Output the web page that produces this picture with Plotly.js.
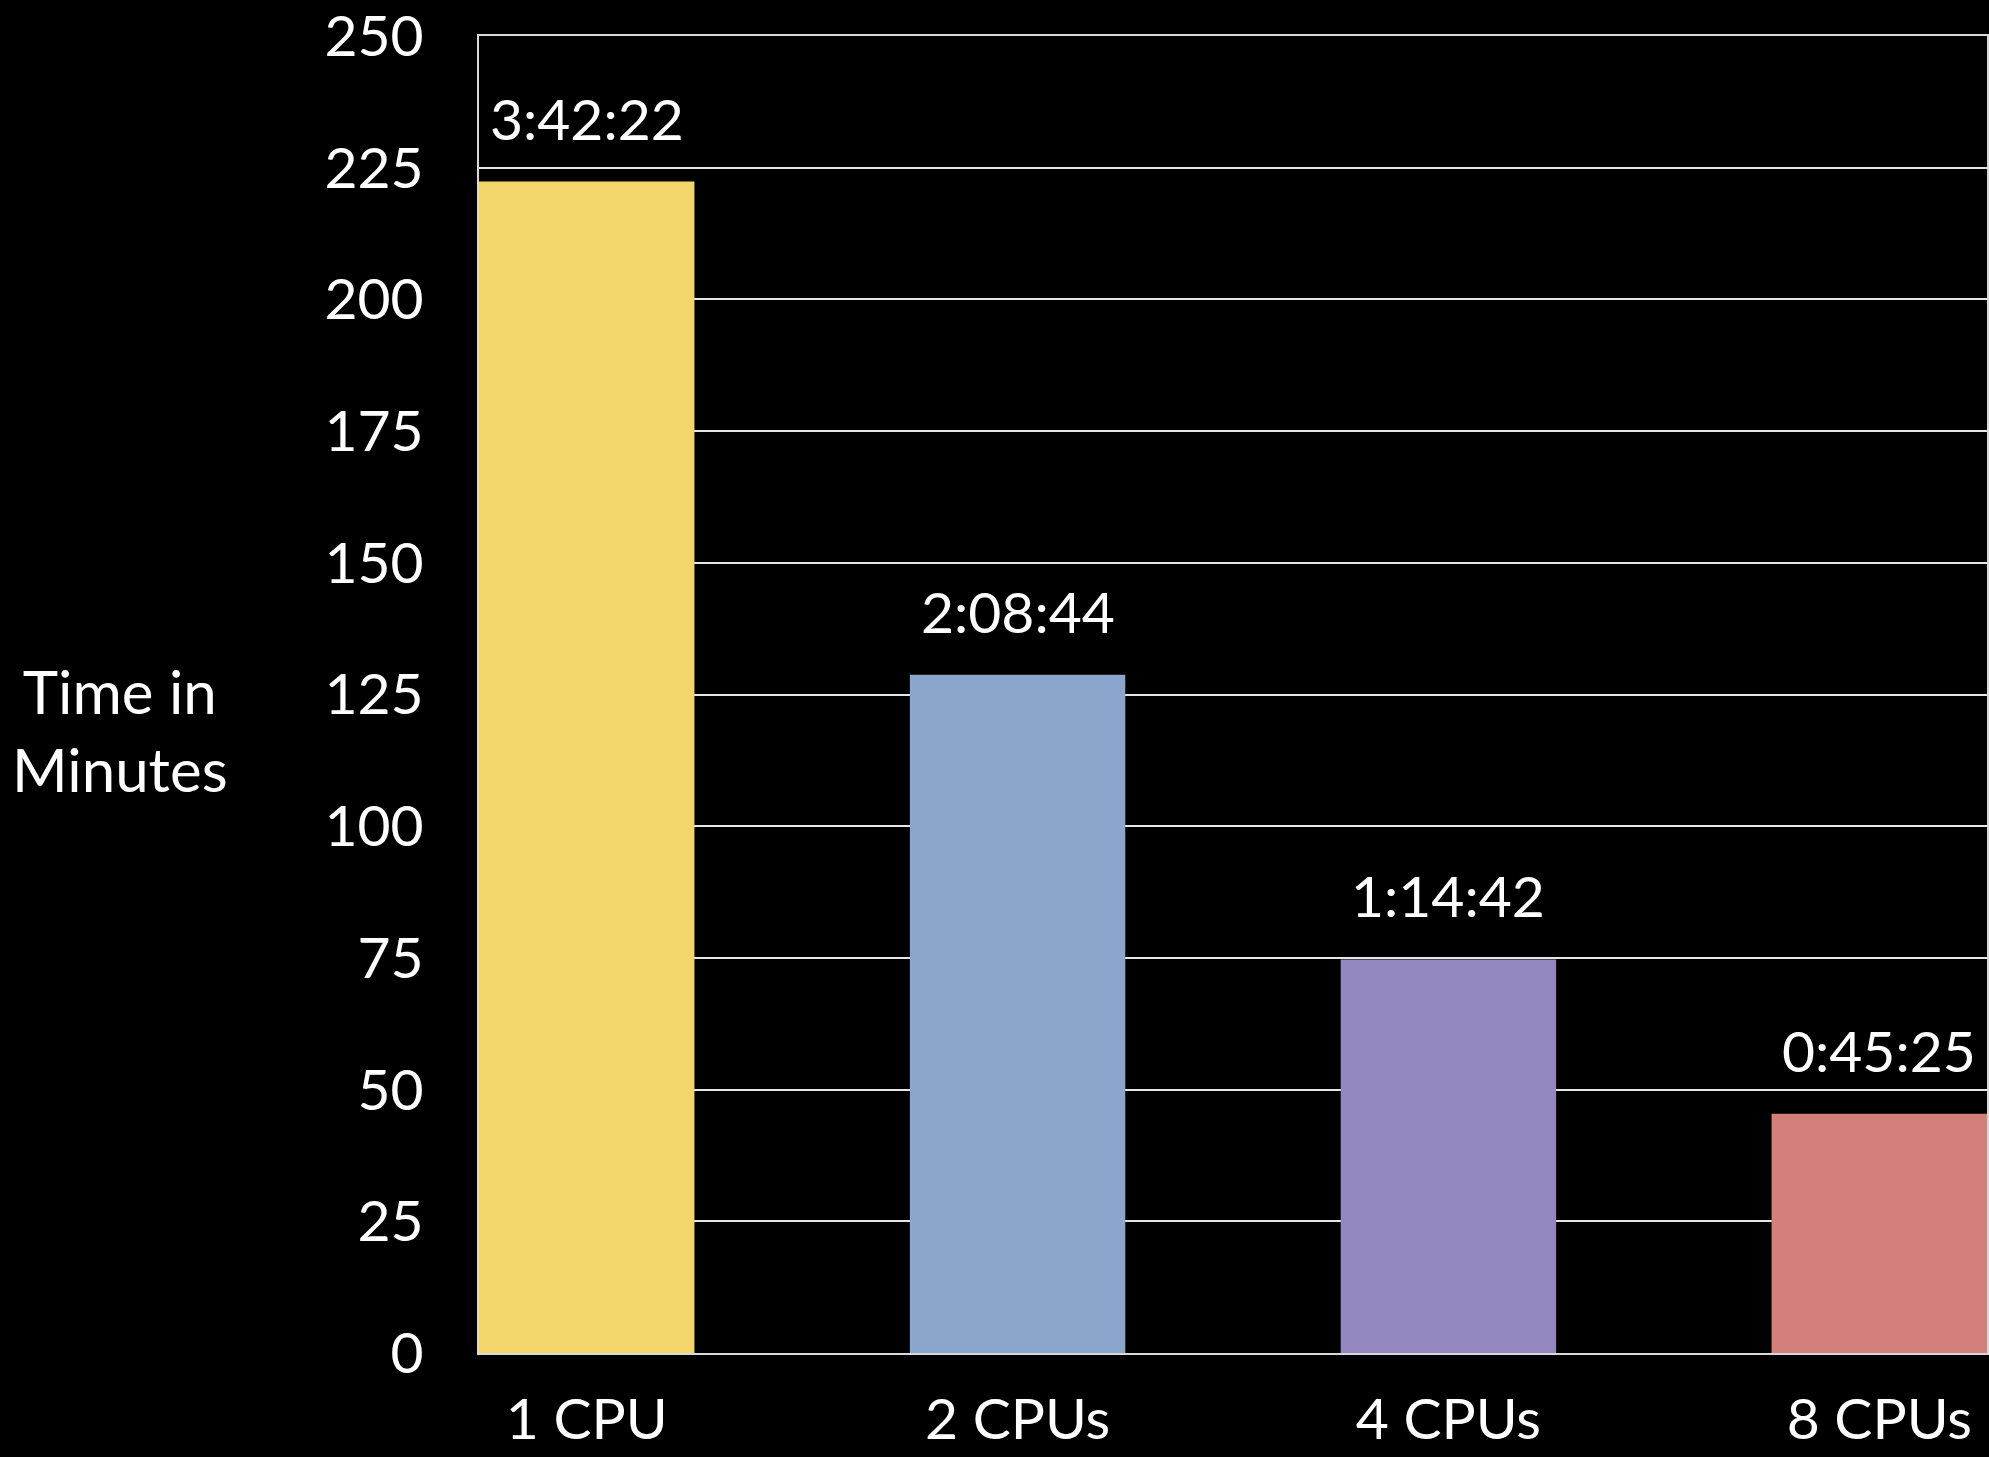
<!DOCTYPE html>
<html>
<head>
<meta charset="utf-8">
<script src="https://cdn.plot.ly/plotly-3.0.1.min.js"></script>
<style>
  html, body { margin: 0; padding: 0; background: #000; }
  #chart { width: 1989px; height: 1457px; }
</style>
</head>
<body>
<div id="chart"></div>
<script>
// Data
const categories = ["1 CPU", "2 CPUs", "4 CPUs", "8 CPUs"];
const timeLabels = ["3:42:22", "2:08:44", "1:14:42", "0:45:25"];
// minutes = h*60 + m + s/60
const minutes = [222.367, 128.733, 74.7, 45.417];
const barColors = ["#F3D56C", "#8BA6CC", "#9487C0", "#D4807A"];
const yTicks = [0, 25, 50, 75, 100, 125, 150, 175, 200, 225, 250];
const yTitleLines = ["Time in", "Minutes"];

const FONT = "Lato, 'Open Sans', sans-serif";
const FS = 57;

const trace = {
  type: "bar",
  x: categories,
  y: minutes,
  width: 0.5,
  marker: { color: barColors, line: { width: 0 } },
  hoverinfo: "none",
  cliponaxis: false
};

const annotations = categories.map((c, i) => ({
  x: c, y: minutes[i], xref: "x", yref: "y",
  text: timeLabels[i], showarrow: false,
  yanchor: "middle", yshift: 64,
  font: { family: FONT, size: FS, color: "#ffffff" }
}));

annotations.push({
  xref: "paper", yref: "paper",
  x: -0.238, y: 0.473, xanchor: "center", yanchor: "middle",
  text: yTitleLines.join("<br>"), showarrow: false, align: "center",
  font: { family: FONT, size: 60, color: "#ffffff" }
});

const layout = {
  width: 1989, height: 1457,
  paper_bgcolor: "#000000", plot_bgcolor: "#000000",
  margin: { l: 479, r: 2, t: 36, b: 104 },
  showlegend: false,
  font: { family: FONT, size: FS, color: "#ffffff" },
  xaxis: {
    type: "category",
    range: [-0.25, 3.25],
    showgrid: false,
    showline: true, mirror: true, linecolor: "#d9d9d9", linewidth: 2,
    ticks: "outside", ticklen: 16, tickcolor: "rgba(0,0,0,0)",
    ticklabeloverflow: "allow",
    tickfont: { family: FONT, size: FS, color: "#ffffff" },
    fixedrange: true
  },
  yaxis: {
    range: [0, 250],
    tickvals: yTicks,
    ticktext: yTicks.map(String),
    showgrid: true, gridcolor: "#e6e6e6", gridwidth: 2,
    zeroline: false,
    showline: true, mirror: true, linecolor: "#d9d9d9", linewidth: 2,
    ticks: "outside", ticklen: 42, tickcolor: "rgba(0,0,0,0)",
    ticklabeloverflow: "allow",
    tickfont: { family: FONT, size: FS, color: "#ffffff" },
    fixedrange: true
  },
  annotations: annotations
};

Plotly.newPlot("chart", [trace], layout, { displayModeBar: false, staticPlot: true });
</script>
</body>
</html>
